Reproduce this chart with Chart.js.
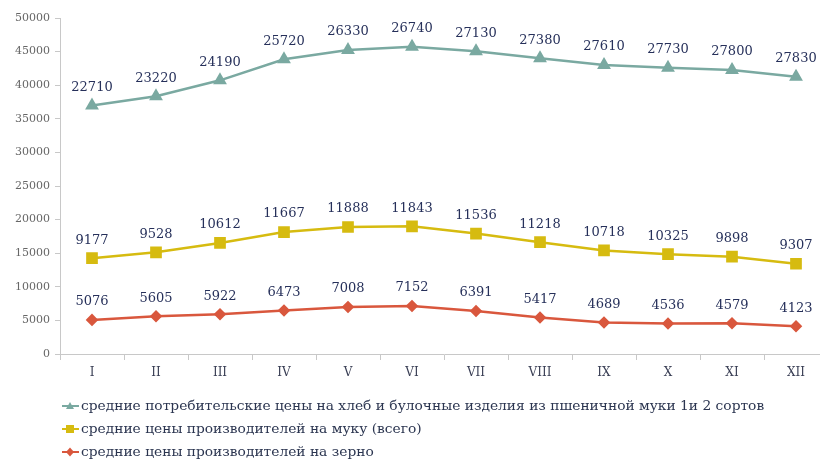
<!DOCTYPE html>
<html>
<head>
<meta charset="utf-8">
<script src="https://cdn.jsdelivr.net/npm/chart.js@4.4.1/dist/chart.umd.min.js"></script>
<style>
    html, body { margin: 0; padding: 0; overflow: hidden; background: #fff; }
    #wrap { position: relative; width: 840px; height: 459px; }
    #legend { position: absolute; left: 62px; top: 394px; font-family: "DejaVu Serif", serif; font-size: 13.8px; color: #2b3550; }
    .item { height: 23px; line-height: 23px; display: flex; align-items: center; white-space: nowrap; }
    .item svg { margin-right: 2px; }
</style>
</head>
<body>
<div id="wrap">
    <canvas id="chart" width="840" height="459"></canvas>
    <div id="legend"></div>
</div>
<script>
// Months
const months = ['I', 'II', 'III', 'IV', 'V', 'VI', 'VII', 'VIII', 'IX', 'X', 'XI', 'XII'];

// Series values (stacked in the chart)
const grainPrices = [5076, 5605, 5922, 6473, 7008, 7152, 6391, 5417, 4689, 4536, 4579, 4123];
const flourPrices = [9177, 9528, 10612, 11667, 11888, 11843, 11536, 11218, 10718, 10325, 9898, 9307];
const breadPrices = [22710, 23220, 24190, 25720, 26330, 26740, 27130, 27380, 27610, 27730, 27800, 27830];

// Labels
const grainLabel = 'средние цены производителей на зерно';
const flourLabel = 'средние цены производителей на муку (всего)';
const breadLabel = 'средние потребительские цены на хлеб и булочные изделия из пшеничной муки 1и 2 сортов';

const serif = '"DejaVu Serif", serif';

// Draw the raw value above each point
const valueLabels = {
    id: 'valueLabels',
    afterDatasetsDraw(chart) {
        const ctx = chart.ctx;
        ctx.save();
        ctx.font = '13px ' + serif;
        ctx.fillStyle = '#26305a';
        ctx.textAlign = 'center';
        ctx.textBaseline = 'middle';
        chart.data.datasets.forEach((ds, i) => {
            const meta = chart.getDatasetMeta(i);
            meta.data.forEach((pt, j) => {
                ctx.fillText(ds.data[j], pt.x, pt.y - 18);
            });
        });
        ctx.restore();
    }
};

const ctx = document.getElementById('chart').getContext('2d');
const chart = new Chart(ctx, {
    type: 'line',
    data: {
        labels: months,
        datasets: [{
            label: grainLabel,
            data: grainPrices,
            borderColor: '#d9573d',
            backgroundColor: '#d9573d',
            pointStyle: 'rectRot',
            pointRadius: 4.5,
            borderWidth: 2.5,
            fill: false
        }, {
            label: flourLabel,
            data: flourPrices,
            borderColor: '#d6bb10',
            backgroundColor: '#d6bb10',
            pointStyle: 'rect',
            pointRadius: 6.5,
            borderWidth: 2.5,
            fill: false
        }, {
            label: breadLabel,
            data: breadPrices,
            borderColor: '#7aa9a1',
            backgroundColor: '#7aa9a1',
            pointStyle: 'triangle',
            pointRadius: 5.5,
            borderWidth: 2.5,
            fill: false
        }]
    },
    options: {
        responsive: false,
        animation: false,
        layout: { padding: { top: 18, right: 12, bottom: 75, left: 0 } },
        plugins: {
            legend: { display: false },
            tooltip: { enabled: false }
        },
        scales: {
            x: {
                stacked: true,
                offset: true,
                grid: { display: true, drawOnChartArea: false, offset: true, tickLength: 6, color: '#c8c8c8' },
                border: { color: '#c8c8c8' },
                ticks: { font: { family: serif, size: 12 }, color: '#3a3f55', padding: 6 },
                afterFit(scale) { scale.height = 30; }
            },
            y: {
                stacked: true,
                min: 0,
                max: 50000,
                grid: { display: true, drawOnChartArea: false, tickLength: 5, color: '#c8c8c8' },
                border: { color: '#c8c8c8' },
                ticks: {
                    stepSize: 5000,
                    font: { family: serif, size: 11 },
                    color: '#666',
                    padding: 5,
                    callback: v => String(v)
                },
                afterFit(scale) { scale.width = 60; }
            }
        }
    },
    plugins: [valueLabels]
});

// HTML legend, same order as the reference
function marker(color, shape) {
    let m = '';
    if (shape === 'triangle') m = `<polygon points="8,2 12,9 4,9" fill="${color}"/>`;
    if (shape === 'rect') m = `<rect x="4" y="2" width="8" height="8" fill="${color}"/>`;
    if (shape === 'rectRot') m = `<polygon points="8,1.5 12,6 8,10.5 4,6" fill="${color}"/>`;
    return `<svg width="17" height="12"><line x1="0" y1="6" x2="17" y2="6" stroke="${color}" stroke-width="2"/>${m}</svg>`;
}
const legendItems = [
    [breadLabel, '#7aa9a1', 'triangle'],
    [flourLabel, '#d6bb10', 'rect'],
    [grainLabel, '#d9573d', 'rectRot']
];
document.getElementById('legend').innerHTML = legendItems
    .map(([t, c, s]) => `<div class="item">${marker(c, s)}<span>${t}</span></div>`)
    .join('');
</script>
</body>
</html>
